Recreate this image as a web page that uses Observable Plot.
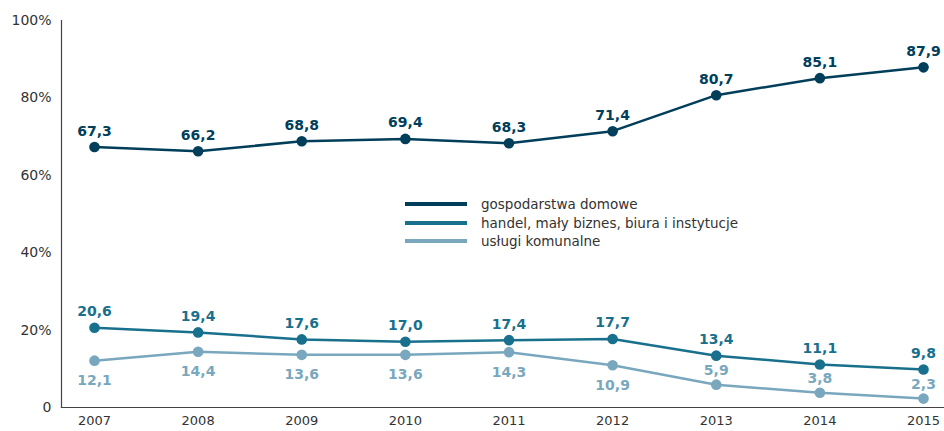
<!DOCTYPE html>
<html><head><meta charset="utf-8">
<script src="https://cdn.jsdelivr.net/npm/d3@7"></script>
<script src="https://cdn.jsdelivr.net/npm/@observablehq/plot@0.6"></script>
<style>
body{margin:0;background:#fff;font-family:"DejaVu Sans",sans-serif;}
#wrap{position:relative;width:944px;height:431px;}
#legend{position:absolute;left:405px;top:195px;font-size:13.5px;color:#333;}
.row{display:flex;align-items:center;height:18.5px;}
.sw{width:62px;height:4px;margin-right:14px;}
</style></head><body>
<div id="wrap"><div id="legend"></div></div>
<script>
const years = [2007, 2008, 2009, 2010, 2011, 2012, 2013, 2014, 2015];
const seriesNames = ["gospodarstwa domowe", "handel, mały biznes, biura i instytucje", "usługi komunalne"];
const households = [67.3, 66.2, 68.8, 69.4, 68.3, 71.4, 80.7, 85.1, 87.9];
const business = [20.6, 19.4, 17.6, 17.0, 17.4, 17.7, 13.4, 11.1, 9.8];
const municipal = [12.1, 14.4, 13.6, 13.6, 14.3, 10.9, 5.9, 3.8, 2.3];
const yTicks = [0, 20, 40, 60, 80, 100];
const colors = ["#003e5a", "#19708d", "#78a7be"];

const valuesList = [households, business, municipal];
const data = [];
valuesList.forEach((vals, s) => vals.forEach((v, i) => data.push({series: seriesNames[s], s, year: years[i], value: v, label: v.toFixed(1).replace(".", ",")})));

const fmt = d => d === 0 ? "0" : d + "%";
const above = data.filter(d => d.s < 2);
const belowLight = data.filter(d => d.s === 2 && d.year <= 2012);
const aboveLight = data.filter(d => d.s === 2 && d.year > 2012);

const chart = Plot.plot({
  width: 944, height: 431,
  marginLeft: 61, marginRight: 0, marginTop: 20, marginBottom: 24,
  style: {fontFamily: "DejaVu Sans, sans-serif", background: "white"},
  x: {type: "linear", domain: [2007, 2015], range: [94, 923]},
  y: {domain: [0, 100], range: [407, 20]},
  color: {domain: seriesNames, range: colors},
  marks: [
    Plot.axisY({ticks: yTicks, tickFormat: fmt, tickSize: 0, tickPadding: 10, fontSize: 14, color: "#333", label: null}),
    Plot.axisX({ticks: years, tickFormat: d => String(d), tickSize: 0, tickPadding: 8, fontSize: 13, color: "#333", label: null}),
    Plot.frame({anchor: "left", stroke: "#444", strokeWidth: 1.2}),
    Plot.frame({anchor: "bottom", stroke: "#444", strokeWidth: 1.2}),
    Plot.line(data, {x: "year", y: "value", z: "series", stroke: "series", strokeWidth: 2.5}),
    Plot.dot(data, {x: "year", y: "value", fill: "series", r: 5.3}),
    Plot.text(above, {x: "year", y: "value", text: "label", fill: "series", dy: -16, fontSize: 14, fontWeight: "bold"}),
    Plot.text(belowLight, {x: "year", y: "value", text: "label", fill: "series", dy: 20, fontSize: 14, fontWeight: "bold"}),
    Plot.text(aboveLight, {x: "year", y: "value", text: "label", fill: "series", dy: -14, fontSize: 14, fontWeight: "bold"})
  ]
});
document.getElementById("wrap").prepend(chart);
const lg = document.getElementById("legend");
seriesNames.forEach((n, i) => {
  const r = document.createElement("div"); r.className = "row";
  const sw = document.createElement("div"); sw.className = "sw"; sw.style.background = colors[i];
  const t = document.createElement("span"); t.textContent = n;
  r.append(sw, t); lg.append(r);
});
</script></body></html>
